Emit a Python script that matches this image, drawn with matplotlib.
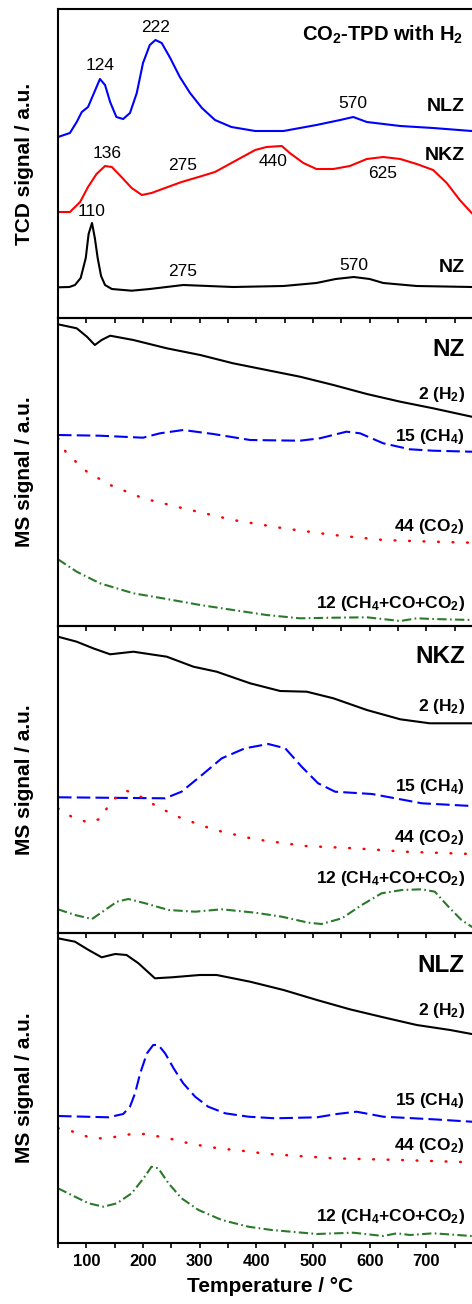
import matplotlib
matplotlib.use('Agg')
import matplotlib.pyplot as plt

plt.rcParams['font.family'] = ['Liberation Sans', 'DejaVu Sans']
plt.rcParams['font.weight'] = 'bold'
plt.rcParams['axes.labelweight'] = 'bold'
plt.rcParams['mathtext.default'] = 'regular'

# ---- TCD panel (CO2-TPD with H2) ----
t_tcd_nlz = [50, 71, 83, 92, 103, 112, 124, 133, 142, 153, 165, 177, 189, 200, 212, 222, 233, 248,
             265, 283, 304, 327, 356, 398, 448, 506, 548, 571, 595, 654, 712, 780, 800]
tcd_nlz = [181, 185, 196, 206, 211, 223, 239, 233, 216, 201, 199, 205, 225, 255, 273, 278, 275, 260,
           241, 225, 210, 198, 191, 187, 187, 193, 198, 201, 196, 192, 190, 187, 186]

t_tcd_nkz = [50, 71, 89, 103, 118, 133, 145, 162, 180, 198, 215, 239, 268, 298, 327, 356, 398, 418,
             445, 459, 483, 506, 536, 565, 595, 624, 654, 683, 712, 736, 759, 780, 800]
tcd_nkz = [106, 106, 116, 131, 144, 152, 151, 141, 130, 123, 125, 130, 136, 141, 146, 155, 168, 171,
           172, 165, 155, 149, 149, 152, 159, 161, 159, 154, 148, 135, 118, 105, 95]

t_tcd_nz = [50, 70, 80, 90, 99, 104, 110, 115, 120, 126, 133, 145, 180, 212, 271, 359, 448, 506,
            540, 572, 600, 624, 683, 780, 800]
tcd_nz = [30.7, 31, 33, 40, 60, 84, 95, 80, 60, 42, 33, 29, 27.3, 29, 33, 31, 32, 35,
          39, 41, 39, 35, 32, 31, 31]

# peak labels: (text, temperature, height)
tcd_peaks = [('222', 222, 290.7), ('124', 124, 252), ('570', 571, 214),
             ('136', 136, 165), ('275', 270, 153), ('440', 429, 156), ('625', 623, 145),
             ('110', 110, 106), ('275', 270, 46), ('570', 572, 53)]
tcd_names = [('NLZ', 211.3), ('NKZ', 162), ('NZ', 51)]

# ---- MS panels: m/z 2, 15, 44, 12 ----
# NZ
t_nz_h2 = [50, 83, 101, 115, 127, 142, 183, 242, 301, 359, 418, 477, 536, 595, 654, 712, 780, 800]
nz_h2 = [301.7, 297.7, 289.3, 281, 286, 290.3, 286, 277.7, 271, 262.7, 256, 249.3, 241, 232, 224.3,
         217.7, 209.3, 207]
t_nz_ch4 = [50, 124, 200, 230, 271, 324, 389, 477, 512, 559, 583, 624, 671, 712, 780, 800]
nz_ch4 = [191, 190.3, 188.3, 192.7, 196, 192, 186, 185.3, 187.7, 194.3, 192.7, 182.7, 176.7, 175.3,
          174.3, 174]
t_nz_co2 = [50, 65, 101, 142, 200, 271, 359, 448, 536, 624, 712, 780, 800]
nz_co2 = [187.7, 172.7, 154.3, 141, 127.7, 117.7, 106, 97.7, 91, 86, 84.3, 83.3, 83]
t_nz_c = [50, 83, 124, 183, 242, 301, 359, 418, 477, 536, 595, 654, 683, 712, 780, 800]
nz_c = [66.7, 54.3, 42.7, 32.7, 27, 21, 16, 11, 7.7, 8.3, 8.7, 5, 7.7, 7, 6, 6]

# NKZ
t_nkz_h2 = [50, 83, 112, 142, 183, 242, 289, 330, 389, 442, 489, 536, 595, 654, 706, 780, 800]
nkz_h2 = [296.3, 291.3, 284.7, 278.7, 281.3, 276.3, 266.3, 261.3, 249.7, 242, 241.3, 234.7, 223,
          213.7, 209.7, 209.7, 210]
t_nkz_ch4 = [50, 239, 268, 304, 339, 380, 421, 451, 480, 509, 539, 604, 645, 692, 780, 800]
nkz_ch4 = [135.7, 134.7, 141.3, 158, 174.7, 184.7, 189, 184.7, 166.3, 149.7, 141.3, 139, 134.7,
           129.7, 127, 127]
t_nkz_co2 = [50, 74, 104, 127, 142, 171, 198, 227, 268, 327, 398, 486, 574, 662, 780, 800]
nkz_co2 = [124.7, 116.3, 110.3, 114.7, 131.3, 142.3, 135.7, 125.7, 114.7, 103, 93.7, 87, 84.7, 81.3,
           79, 79]
t_nkz_c = [50, 80, 110, 133, 154, 174, 204, 245, 292, 339, 398, 445, 492, 515, 551, 586, 621, 657,
           692, 715, 739, 762, 780, 800]
nkz_c = [23.7, 18, 14, 23, 31.3, 34, 29.7, 23, 21.3, 23.7, 20.3, 16.3, 10.3, 9, 14.7, 28, 39.7, 43,
         43.7, 41.3, 26.3, 13, 6.3, 0]

# NLZ
t_nlz_h2 = [50, 80, 104, 127, 151, 171, 192, 221, 251, 300, 330, 389, 448, 507, 565, 624, 683, 742,
            780, 800]
nlz_h2 = [304.7, 301.3, 293, 285.7, 289, 288, 279.7, 264.7, 265.7, 268, 268, 261.3, 253, 243, 233.7,
          225.7, 218, 213, 209, 208]
t_nlz_ch4 = [50, 139, 165, 177, 186, 195, 207, 218, 227, 239, 254, 271, 292, 315, 345, 386, 433,
             507, 542, 577, 624, 712, 780, 800]
nlz_ch4 = [127, 125.7, 129, 136.3, 149.7, 169.7, 189.7, 198, 198, 189.7, 174.7, 159.7, 146.3, 136.3,
           129.7, 126.3, 124.7, 125.7, 129, 131.3, 126.3, 123.7, 121.3, 121]
t_nlz_co2 = [50, 68, 110, 136, 180, 204, 245, 286, 333, 374, 421, 536, 654, 780, 800]
nlz_co2 = [114.7, 113, 104.7, 104.7, 109, 109, 104.7, 99, 94.7, 92.3, 89, 84.7, 83, 80.7, 80.5]
t_nlz_c = [50, 80, 104, 130, 154, 180, 201, 215, 227, 245, 268, 298, 339, 386, 427, 507, 571, 624,
           648, 671, 712, 780, 800]
nlz_c = [54.7, 46.3, 39.7, 36.3, 39.7, 49.7, 64.7, 76.3, 74.7, 59.7, 44.7, 33, 23, 16.3, 13, 9, 10.3,
         7, 9.7, 8, 9.7, 7, 7]

ms_panels = [
    ('NZ', 308, (t_nz_h2, nz_h2), (t_nz_ch4, nz_ch4), (t_nz_co2, nz_co2), (t_nz_c, nz_c),
     [276, 232, 190, 99, 22.7]),
    ('NKZ', 307, (t_nkz_h2, nkz_h2), (t_nkz_ch4, nkz_ch4), (t_nkz_co2, nkz_co2), (t_nkz_c, nkz_c),
     [276.3, 226.3, 146.3, 95.7, 54.7]),
    ('NLZ', 310, (t_nlz_h2, nlz_h2), (t_nlz_ch4, nlz_ch4), (t_nlz_co2, nlz_co2), (t_nlz_c, nlz_c),
     [277.5, 232.3, 142.3, 97.3, 26.3]),
]
ms_names = ['2 (H$_2$)', '15 (CH$_4$)', '44 (CO$_2$)', '12 (CH$_4$+CO+CO$_2$)']

# line styles for the four m/z traces
green = '#2b7a2b'
styles = [
    dict(color='black', linestyle='-', lw=1.5),
    dict(color='#0000ff', linestyle=(0, (6.5, 2.5)), lw=1.5),
    dict(color='#ff0000', linestyle=(0, (0.3, 5.5)), dash_capstyle='round', lw=1.8),
    dict(color=green, linestyle=(0, (4.5, 1.6, 0.8, 1.6)), lw=1.5),
]

W, H = 472, 1304
fig = plt.figure(figsize=(W / 100, H / 100), dpi=100)

# panel edges in pixels (top, bottom); axes runs past the right border like the cropped original
edges = [(9, 318), (318, 626), (626, 933), (933, 1243)]
x0_px, x1_px = 58, 483
axes = []
for top, bot in edges:
    ax = fig.add_axes([x0_px / W, 1 - bot / H, (x1_px - x0_px) / W, (bot - top) / H])
    ax.set_facecolor('none')
    ax.set_xlim(50, 800)
    ax.set_yticks([])
    ax.set_xticks(range(100, 800, 100))
    ax.set_xticks(range(50, 800, 100), minor=True)
    ax.tick_params(axis='x', which='both', direction='out', length=3.6, width=1.2,
                   top=False, labelsize=12, pad=4)
    for s in ax.spines.values():
        s.set_linewidth(1.5)
    axes.append(ax)

for ax in axes[:-1]:
    ax.tick_params(axis='x', labelbottom=False)

xr = 768  # right edge of the labels
ylab_x = -(58 - 24.5) / (x1_px - x0_px)

# TCD
ax = axes[0]
ax.set_ylim(0, 309)
ax.plot(t_tcd_nlz, tcd_nlz, color='#0000ff', lw=1.5)
ax.plot(t_tcd_nkz, tcd_nkz, color='#ff0000', lw=1.5)
ax.plot(t_tcd_nz, tcd_nz, color='black', lw=1.5)
for txt, tx, ty in tcd_peaks:
    ax.text(tx, ty, txt, ha='center', va='center', fontsize=12.5, fontweight='normal')
for txt, ty in tcd_names:
    ax.text(xr, ty, txt, ha='right', va='center', fontsize=14)
ax.text(765, 283, 'CO$_2$-TPD with H$_2$', ha='right', va='center', fontsize=14.5)
ax.set_ylabel('TCD signal / a.u.', fontsize=15, va='center')
ax.yaxis.set_label_coords(ylab_x, 0.5)

for ax, (name, top, *series, label_y) in zip(axes[1:], ms_panels):
    ax.set_ylim(0, top)
    for (tx, ty), st in zip(series, styles):
        ax.plot(tx, ty, **st)
    ax.text(xr, label_y[0], name, ha='right', va='center', fontsize=17.5)
    for lab, ly in zip(ms_names, label_y[1:]):
        ax.text(xr, ly, lab, ha='right', va='center', fontsize=12.5)
    ax.set_ylabel('MS signal / a.u.', fontsize=15, va='center')
    ax.yaxis.set_label_coords(ylab_x, 0.5)

axes[-1].set_xlabel('Temperature / \u00b0C', fontsize=15, labelpad=6)

fig.savefig('out.png', dpi=100)
